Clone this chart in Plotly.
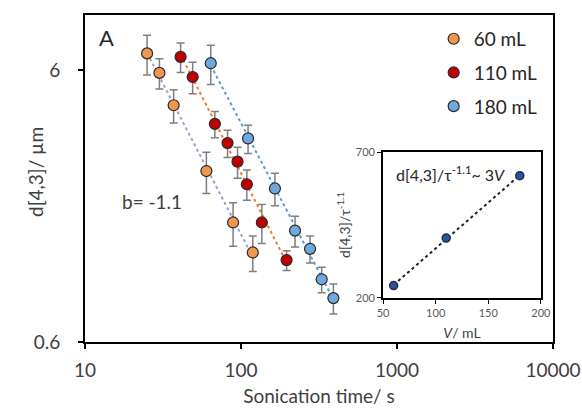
import numpy as np
import plotly.graph_objects as go

# ---- data ----
t60 = [25, 30, 37, 60, 89, 119]
d60 = [6.9, 5.85, 4.45, 2.55, 1.65, 1.28]
e60 = [1.15, 0.74, 0.62, 0.44, 0.30, 0.19]

t110 = [41, 49, 68, 82, 95, 109, 136, 196]
d110 = [6.7, 5.65, 3.8, 3.23, 2.76, 2.28, 1.65, 1.2]
e110 = [0.83, 0.75, 0.42, 0.37, 0.36, 0.29, 0.27, 0.10]

t180 = [64, 111, 165, 222, 277, 329, 391]
d180 = [6.35, 3.36, 2.2, 1.54, 1.32, 1.02, 0.87]
e180 = [1.05, 0.40, 0.30, 0.20, 0.15, 0.11, 0.11]

vol = [60, 110, 180]
ratio = [242, 405, 619]

series = [
    ("60 mL", t60, d60, e60, "#F0964F", "#93A6C4"),
    ("110 mL", t110, d110, e110, "#C00000", "#ED7D31"),
    ("180 mL", t180, d180, e180, "#6FA8DC", "#5B9BD5"),
]

FONT = "Lato"
fig = go.Figure()

# trend lines (power-law fits)
for name, t, d, e, col, lcol in series:
    lt, ld = np.log10(t), np.log10(d)
    k, c = np.polyfit(lt, ld, 1)
    xs = np.array([min(t), max(t)])
    ys = 10 ** (c + k * np.log10(xs))
    fig.add_trace(go.Scatter(x=xs, y=ys, mode="lines",
                             line=dict(color=lcol, width=2, dash="dot"),
                             showlegend=False, hoverinfo="skip"))

for i, (name, t, d, e, col, lcol) in enumerate(series):
    fig.add_trace(go.Scatter(
        x=t, y=d, mode="markers", name=name, legendgroup=name,
        marker=dict(size=11, color=col, line=dict(color="#2a2a2a", width=1.2)),
        error_y=dict(type="data", array=e, color="#7f7f7f", thickness=1.5, width=4),
    ))

# inset
k2, c2 = np.polyfit(vol, ratio, 1)
vx = np.array([min(vol), max(vol)])
fig.add_trace(go.Scatter(x=vx, y=c2 + k2 * vx, mode="lines", xaxis="x2", yaxis="y2",
                         line=dict(color="#222222", width=2, dash="dot"),
                         showlegend=False, hoverinfo="skip"))
fig.add_trace(go.Scatter(x=vol, y=ratio, mode="markers", xaxis="x2", yaxis="y2",
                         marker=dict(size=8, color="#2F5597", line=dict(color="#1F2F50", width=1.5)),
                         showlegend=False))

y0 = np.log10(0.6)
PL, PR = 85, 29
fig.update_layout(
    width=582, height=411,
    margin=dict(l=PL, r=PR, t=15, b=69, autoexpand=False),
    paper_bgcolor="white", plot_bgcolor="white",
    font=dict(family=FONT, color="#404040"),
    showlegend=True,
    legend=dict(x=0.745, y=0.985, xanchor="left", yanchor="top",
                font=dict(size=19, color="#262626"), bgcolor="rgba(0,0,0,0)",
                tracegroupgap=6, itemwidth=30),
    xaxis=dict(type="log", range=[1, 4], tickvals=[10, 100, 1000, 10000],
               ticktext=["10", "100", "1000", "10000"], automargin=False,
               showgrid=False, zeroline=False, showline=True, linecolor="black", linewidth=2,
               mirror=True, ticks="outside", ticklen=5, tickcolor="black", tickwidth=1.5,
               tickfont=dict(size=19, color="#404040"), ticklabelstandoff=5,
               title=dict(text="Sonication time/ s", font=dict(size=19, color="#404040"), standoff=10),
               domain=[0, 1]),
    yaxis=dict(type="log", range=[y0, 0.98], tickvals=[0.6, 6], ticktext=["0.6", "6"],
               showgrid=False, zeroline=False, showline=True, linecolor="black", linewidth=2,
               mirror=True, ticks="outside", ticklen=5, tickcolor="black", tickwidth=1.5,
               tickfont=dict(size=19, color="#404040"), ticklabelstandoff=14, automargin=False,
               domain=[0, 1]),
    xaxis2=dict(anchor="y2", domain=[0.637, 0.974], range=[50, 200], automargin=False,
                tickvals=[50, 100, 150, 200], showgrid=False, zeroline=False,
                showline=True, linecolor="black", linewidth=2, mirror=True,
                ticks="outside", ticklen=4, tickcolor="black",
                tickfont=dict(size=11, color="#595959"),
                title=dict(text="<i>V</i>/ mL", font=dict(size=14, color="#404040"), standoff=10)),
    yaxis2=dict(anchor="x2", domain=[0.135, 0.581], range=[200, 700], automargin=False,
                tickvals=[200, 700], showgrid=False, zeroline=False,
                showline=True, linecolor="black", linewidth=2, mirror=True,
                ticks="outside", ticklen=4, tickcolor="black",
                tickfont=dict(size=11, color="#595959"),
                title=dict(text="d[4,3]/τ<sup>-1.1</sup>", font=dict(size=14, color="#404040"), standoff=2)),
    annotations=[
        dict(text="d[4,3]/ µm", x=(36 - PL) / (582 - PL - PR), y=0.52, xref="paper", yref="paper",
             textangle=-90, xanchor="center", yanchor="middle", showarrow=False,
             font=dict(size=19, color="#404040")),
        dict(text="A", x=0.025, y=0.93, xref="paper", yref="paper", xanchor="left", yanchor="middle",
             showarrow=False, font=dict(size=22, color="#262626")),
        dict(text="b= -1.1", x=0.075, y=0.43, xref="paper", yref="paper", xanchor="left", yanchor="middle",
             showarrow=False, font=dict(size=19, color="#404040")),
        dict(text="d[4,3]/τ<sup>-1.1</sup>~ 3<i>V</i>", x=0.07, y=0.85, xref="x2 domain", yref="y2 domain",
             xanchor="left", yanchor="middle", showarrow=False, font=dict(size=16, color="#262626")),
    ],
)

fig.write_html("out.html")
